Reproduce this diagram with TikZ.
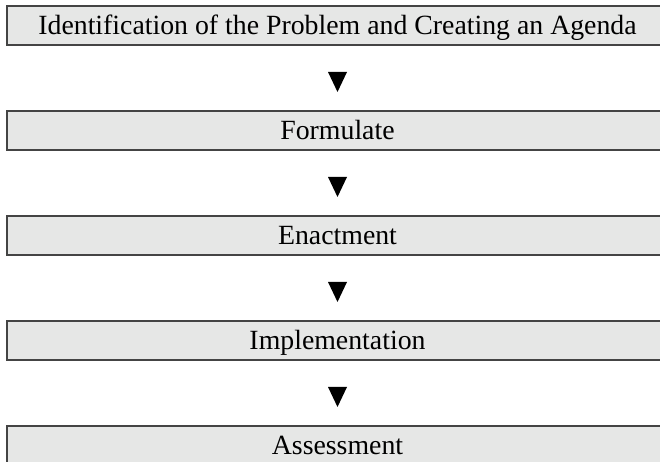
\documentclass[tikz,border=0pt]{standalone}
\usepackage{fontspec}
\setmainfont{Liberation Serif}
\usetikzlibrary{shapes.geometric}
\definecolor{boxgray}{HTML}{E6E7E6}
\definecolor{edgegray}{HTML}{444444}
\begin{document}
\begin{tikzpicture}[x=1pt,y=1pt,
    stage/.style={draw=edgegray,line width=1.4pt,fill=boxgray,inner sep=0pt,
        minimum width=661pt,minimum height=39pt,text height=18.6pt,text depth=0pt,
        font=\fontsize{27.8}{30}\selectfont},
    tip/.style={isosceles triangle,isosceles triangle stretches,shape border rotate=-90,
        fill=black,inner sep=0pt,minimum width=19pt,minimum height=20pt}]
    \useasboundingbox (0,0) rectangle (660,-462);
    \node[stage] (agenda) at (337.5,-25.5) {Identification of the Problem and Creating an Agenda};
    \node[tip] (t1) at (337.5,-78) {};
    \node[stage] (formulate) at (337.5,-130.5) {Formulate};
    \node[tip] (t2) at (337.5,-183) {};
    \node[stage] (enact) at (337.5,-235.5) {Enactment};
    \node[tip] (t3) at (337.5,-288) {};
    \node[stage] (implement) at (337.5,-340.5) {Implementation};
    \node[tip] (t4) at (337.5,-393) {};
    \node[stage] (assess) at (337.5,-445.5) {Assessment};
\end{tikzpicture}
\end{document}
